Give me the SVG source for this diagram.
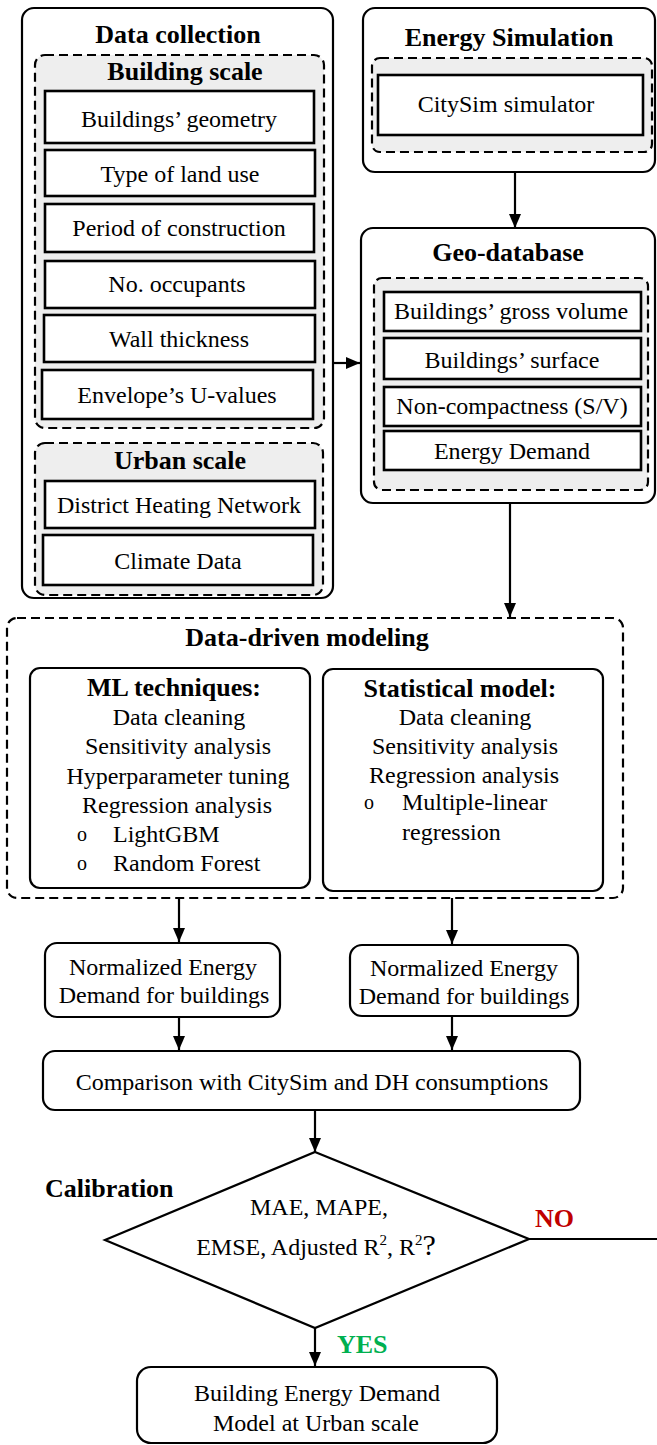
<svg xmlns="http://www.w3.org/2000/svg" width="657" height="1445" viewBox="0 0 657 1445">
<defs>
<marker id="ah" viewBox="0 0 14 12" refX="14" refY="6" markerWidth="14" markerHeight="13" markerUnits="userSpaceOnUse" orient="auto">
<path d="M0,0 L14,6 L0,12 z" fill="#000"/>
</marker>
<style>
.outer{fill:#fff;stroke:#000;stroke-width:2.2}
.dash{fill:#eeeeee;stroke:#000;stroke-width:2.2;stroke-dasharray:9 5}
.dashw{fill:none;stroke:#000;stroke-width:2.2;stroke-dasharray:9 5}
.box{fill:#fff;stroke:#000;stroke-width:2.6}
.rbox{fill:#fff;stroke:#000;stroke-width:2.2}
.t{font-family:"Liberation Serif","Times New Roman",serif;font-size:24px;fill:#000}
.c{text-anchor:middle}
.b{font-family:"Liberation Serif","Times New Roman",serif;font-size:26px;font-weight:bold;fill:#000}
.bul{font-family:"Liberation Serif","Times New Roman",serif;font-size:20px;fill:#000}
.conn{fill:none;stroke:#000;stroke-width:2.2}
</style>
</defs>
<rect width="657" height="1445" fill="#fff"/>

<g id="data-collection">
<rect class="outer" x="22" y="8" width="311" height="590" rx="12"/>
<text class="b c" x="178" y="43">Data collection</text>
<g id="building-scale">
<rect class="dash" x="35" y="55" width="289" height="373" rx="10"/>
<text class="b c" x="185" y="80">Building scale</text>
</g>
<g id="buildings-geometry"><rect class="box" x="45" y="91" width="269" height="52"/><text class="t c" x="179" y="127">Buildings’ geometry</text></g>
<g id="land-use"><rect class="box" x="45" y="150" width="270" height="46"/><text class="t c" x="180" y="182">Type of land use</text></g>
<g id="period"><rect class="box" x="45" y="204" width="269" height="48"/><text class="t c" x="179" y="236">Period of construction</text></g>
<g id="occupants"><rect class="box" x="45" y="261" width="270" height="47"/><text class="t c" x="177" y="292">No. occupants</text></g>
<g id="wall"><rect class="box" x="44" y="315" width="271" height="47"/><text class="t c" x="179" y="347">Wall thickness</text></g>
<g id="uvalues"><rect class="box" x="42" y="370" width="271" height="49"/><text class="t c" x="177" y="403">Envelope’s U-values</text></g>
<g id="urban-scale">
<rect class="dash" x="35" y="443" width="288" height="152" rx="10"/>
<text class="b c" x="180" y="469">Urban scale</text>
</g>
<g id="district"><rect class="box" x="45" y="481" width="270" height="47"/><text class="t c" x="179" y="513">District Heating Network</text></g>
<g id="climate"><rect class="box" x="43" y="535" width="270" height="50"/><text class="t c" x="178" y="569">Climate Data</text></g>
</g>

<g id="energy-simulation">
<rect class="outer" x="363" y="8" width="292" height="164" rx="12"/>
<text class="b c" x="509" y="46">Energy Simulation</text>
<rect class="dash" x="372" y="58" width="280" height="94" rx="8"/>
<g id="citysim"><rect class="box" x="378" y="75" width="265" height="60"/><text class="t c" x="506" y="112">CitySim simulator</text></g>
</g>

<g id="geo-database">
<rect class="outer" x="361" y="228" width="294" height="275" rx="12"/>
<text class="b c" x="508" y="261">Geo-database</text>
<rect class="dash" x="374" y="278" width="274" height="212" rx="8"/>
<g id="gross-volume"><rect class="box" x="384" y="292" width="257" height="39"/><text class="t c" x="511" y="319">Buildings’ gross volume</text></g>
<g id="surface"><rect class="box" x="384" y="338" width="257" height="41"/><text class="t c" x="512" y="368">Buildings’ surface</text></g>
<g id="compactness"><rect class="box" x="384" y="387" width="257" height="39"/><text class="t c" x="512" y="414">Non-compactness (S/V)</text></g>
<g id="energy-demand"><rect class="box" x="384" y="431" width="257" height="39"/><text class="t c" x="512" y="459">Energy Demand</text></g>
</g>

<g id="data-driven">
<rect class="dashw" x="7" y="618" width="616" height="280" rx="10"/>
<text class="b c" x="307" y="646">Data-driven modeling</text>
</g>
<g id="ml-techniques">
<rect class="rbox" x="30" y="668" width="280" height="220" rx="10"/>
<text class="b c" x="174" y="696">ML techniques:</text>
<text class="t c" x="179" y="725">Data cleaning</text>
<text class="t c" x="178" y="754">Sensitivity analysis</text>
<text class="t c" x="178" y="784">Hyperparameter tuning</text>
<text class="t c" x="177" y="813">Regression analysis</text>
<text class="bul" x="77" y="841">o</text><text class="t" x="113" y="842">LightGBM</text>
<text class="bul" x="77" y="870">o</text><text class="t" x="113" y="871">Random Forest</text>
</g>
<g id="statistical-model">
<rect class="rbox" x="323" y="669" width="280" height="222" rx="10"/>
<text class="b c" x="460" y="697">Statistical model:</text>
<text class="t c" x="465" y="725">Data cleaning</text>
<text class="t c" x="465" y="754">Sensitivity analysis</text>
<text class="t c" x="464" y="783">Regression analysis</text>
<text class="bul" x="364" y="809">o</text><text class="t" x="402" y="810">Multiple-linear</text>
<text class="t" x="402" y="840">regression</text>
</g>

<g id="normalized-ml">
<rect class="rbox" x="45" y="943" width="235" height="74" rx="12"/>
<text class="t c" x="163" y="975">Normalized Energy</text>
<text class="t c" x="164" y="1003">Demand for buildings</text>
</g>
<g id="normalized-stat">
<rect class="rbox" x="350" y="945" width="228" height="71" rx="12"/>
<text class="t c" x="464" y="976">Normalized Energy</text>
<text class="t c" x="464" y="1004">Demand for buildings</text>
</g>

<g id="comparison">
<rect class="rbox" x="43" y="1051" width="537" height="59" rx="12"/>
<text class="t c" x="312" y="1090">Comparison with CitySim and DH consumptions</text>
</g>

<g id="calibration">
<path d="M315,1152 L529,1239 L315,1328 L105,1240 Z" fill="#fff" stroke="#000" stroke-width="2.2"/>
<text class="b" x="45" y="1197">Calibration</text>
<text class="t c" x="319" y="1215">MAE, MAPE,</text>
<text class="t c" x="316" y="1255">EMSE, Adjusted R<tspan font-size="15" dy="-10">2</tspan><tspan dy="10">, R</tspan><tspan font-size="15" dy="-10">2</tspan><tspan dy="10" font-size="30">?</tspan></text>
</g>

<g id="final-model">
<rect class="rbox" x="137" y="1367" width="360" height="76" rx="14"/>
<text class="t c" x="317" y="1401">Building Energy Demand</text>
<text class="t c" x="316" y="1431">Model at Urban scale</text>
</g>

<g id="connectors">
<line class="conn" x1="515" y1="172" x2="515" y2="228" marker-end="url(#ah)"/>
<line class="conn" x1="333" y1="363" x2="360" y2="363" marker-end="url(#ah)"/>
<line class="conn" x1="510" y1="504" x2="510" y2="617" marker-end="url(#ah)"/>
<line class="conn" x1="179" y1="898" x2="179" y2="942" marker-end="url(#ah)"/>
<line class="conn" x1="452" y1="898" x2="452" y2="944" marker-end="url(#ah)"/>
<line class="conn" x1="179" y1="1017" x2="179" y2="1050" marker-end="url(#ah)"/>
<line class="conn" x1="452" y1="1016" x2="452" y2="1050" marker-end="url(#ah)"/>
<line class="conn" x1="315" y1="1110" x2="315" y2="1152" marker-end="url(#ah)"/>
<line class="conn" x1="315" y1="1328" x2="315" y2="1366" marker-end="url(#ah)"/>
<line class="conn" x1="529" y1="1239" x2="657" y2="1239"/>
<text class="b" x="535" y="1227" style="fill:#c00000">NO</text>
<text class="b" x="337" y="1353" style="fill:#00b050">YES</text>
</g>
</svg>
